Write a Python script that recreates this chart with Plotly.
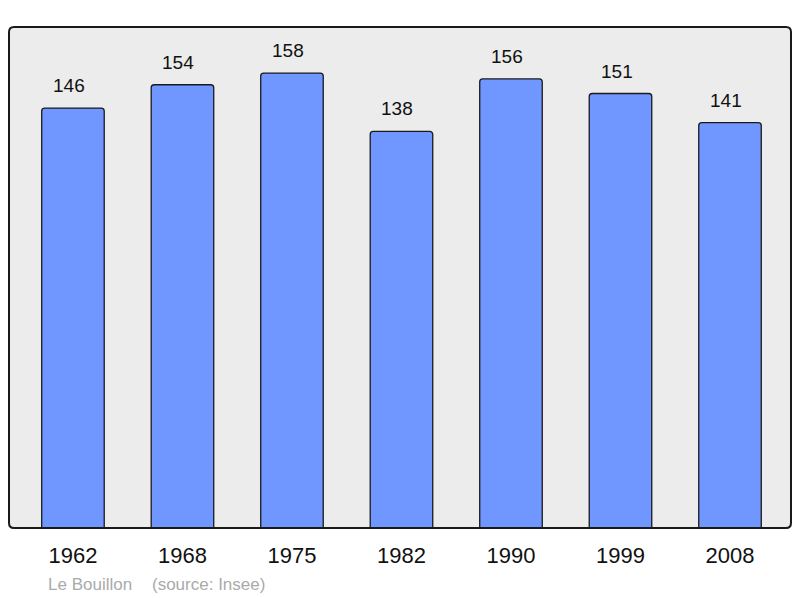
import plotly.graph_objects as go

years = ["1962", "1968", "1975", "1982", "1990", "1999", "2008"]
population = [146, 154, 158, 138, 156, 151, 141]
footer_name = "Le Bouillon"
footer_source = "(source: Insee)"

FONT = "Liberation Sans, Arial, sans-serif"
xs = list(range(len(years)))

fig = go.Figure()
fig.add_trace(go.Bar(
    x=xs, y=population, width=0.571,
    marker=dict(color="#7096ff", line=dict(color="#1a1a1a", width=1.3), cornerradius=3),
    hoverinfo="skip",
))

for x, v in zip(xs, population):
    fig.add_annotation(x=x, y=v, text=str(v), showarrow=False, yanchor="bottom",
                       yshift=10, xshift=-4, font=dict(family=FONT, size=19, color="#111"))

fy = -(584 - 528) / 501
fig.add_annotation(xref="paper", yref="paper", x=(46 - 9) / 782, y=fy,
                   xanchor="left", yanchor="middle", showarrow=False,
                   text=footer_name, font=dict(family=FONT, size=17, color="#aaaaaa"))
fig.add_annotation(xref="paper", yref="paper", x=(150 - 9) / 782, y=fy,
                   xanchor="left", yanchor="middle", showarrow=False,
                   text=footer_source, font=dict(family=FONT, size=17, color="#aaaaaa"))

# rounded frame
dx, dy = 5 / 782, 5 / 501
path = (f"M {dx},0 L {1-dx},0 Q 1,0 1,{dy} L 1,{1-dy} Q 1,1 {1-dx},1 "
        f"L {dx},1 Q 0,1 0,{1-dy} L 0,{dy} Q 0,0 {dx},0 Z")
fig.add_shape(type="path", xref="paper", yref="paper", path=path,
              line=dict(color="#1a1a1a", width=2), layer="above")

fig.update_layout(
    width=792, height=590,
    margin=dict(l=1, r=9, t=19, b=70),
    paper_bgcolor="white", plot_bgcolor="rgba(0,0,0,0)",
    showlegend=False,
    xaxis=dict(range=[-0.584, 6.557], tickmode="array", tickvals=xs, ticktext=years,
               showgrid=False, zeroline=False, showline=False, ticks="",
               tickfont=dict(family=FONT, size=22, color="#111"), ticklabelstandoff=12),
    yaxis=dict(range=[2.06, 173.8], showgrid=False, zeroline=False, showticklabels=False,
               ticks="", showline=False),
)
fig.add_shape(type="path", xref="paper", yref="paper", path=path,
              line=dict(width=0), fillcolor="#ececec", layer="below")

fig.write_html("out.html")
